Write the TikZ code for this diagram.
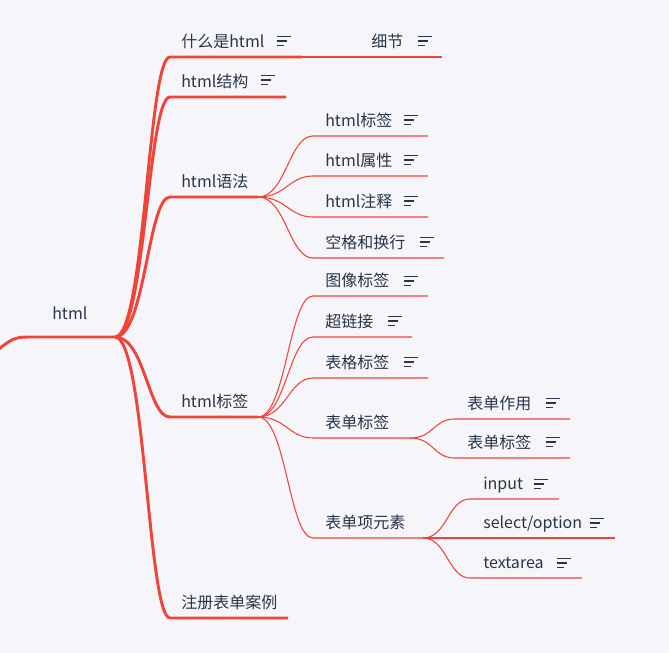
\documentclass[tikz,border=0pt]{standalone}
\usepackage{fontspec}
\setmainfont{Noto Sans CJK SC}
\usepackage{xcolor}
\definecolor{paper}{RGB}{246,246,250}
\definecolor{branch}{RGB}{240,68,56}
\definecolor{ink}{RGB}{40,52,72}
\tikzset{
  topic/.style={anchor=base west, inner sep=0pt, text=ink, font=\fontsize{12}{14}\selectfont},
  mainline/.style={branch, line width=2.2pt},
  subline/.style={branch, line width=0.8pt},
  noteline/.style={ink, line width=1.1pt},
}
% note icon: three lines, x and y of the middle line
\newcommand{\noteicon}[2]{\draw[noteline] (#1,#2-4.5) -- +(14,0) (#1,#2) -- +(10,0) (#1,#2+4.5) -- +(7,0);}

\begin{document}
\begin{tikzpicture}[x=0.75pt,y=-0.75pt]
\fill[paper] (0,0) rectangle (669,653);
\useasboundingbox (0,0) rectangle (669,653);

% root
\node[topic] (root) at (52,319) {html};
\coordinate (edge) at (-1,349);
\coordinate (rootL) at (28,337);
\coordinate (hub) at (115,337);
\draw[mainline] (edge) .. controls +(12,-10) and +(-12,0) .. (rootL) -- (hub);

% level 1
\node[topic] (what) at (181,47) {什么是html};
\coordinate (whatA) at (170,57); \coordinate (whatB) at (302,57);
\draw[mainline] (hub) .. controls +(30,0) and +(-22,0) .. (whatA) -- (whatB);
\noteicon{277}{41}

\node[topic] (struct) at (181,87) {html结构};
\coordinate (structA) at (170,97); \coordinate (structB) at (286,97);
\draw[mainline] (hub) .. controls +(30,0) and +(-22,0) .. (structA) -- (structB);
\noteicon{261}{80}

\node[topic] (syntax) at (181,187) {html语法};
\coordinate (syntaxA) at (170,197); \coordinate (syntaxB) at (258,197);
\draw[mainline] (hub) .. controls +(30,0) and +(-22,0) .. (syntaxA) -- (syntaxB);

\node[topic] (tags) at (181,407) {html标签};
\coordinate (tagsA) at (170,417); \coordinate (tagsB) at (258,417);
\draw[mainline] (hub) .. controls +(30,0) and +(-22,0) .. (tagsA) -- (tagsB);

\node[topic] (demo) at (181,608) {注册表单案例};
\coordinate (demoA) at (170,618); \coordinate (demoB) at (288,618);
\draw[mainline] (hub) .. controls +(30,0) and +(-22,0) .. (demoA) -- (demoB);

% level 2 under 什么是html
\node[topic] (detail) at (371,47) {细节};
\coordinate (detailB) at (442,57);
\draw[subline] (whatB) -- (detailB);
\noteicon{418}{41}

% level 2 under html语法
\node[topic] (s1) at (325,126) {html标签};
\coordinate (s1A) at (313,136); \coordinate (s1B) at (428,136);
\draw[subline] (syntaxB) .. controls +(28,0) and +(-24,0) .. (s1A) -- (s1B);
\noteicon{404}{120}

\node[topic] (s2) at (325,166) {html属性};
\coordinate (s2A) at (313,176); \coordinate (s2B) at (428,176);
\draw[subline] (syntaxB) .. controls +(28,0) and +(-24,0) .. (s2A) -- (s2B);
\noteicon{404}{160}

\node[topic] (s3) at (325,207) {html注释};
\coordinate (s3A) at (313,217); \coordinate (s3B) at (428,217);
\draw[subline] (syntaxB) .. controls +(28,0) and +(-24,0) .. (s3A) -- (s3B);
\noteicon{404}{201}

\node[topic] (s4) at (325,248) {空格和换行};
\coordinate (s4A) at (313,258); \coordinate (s4B) at (444,258);
\draw[subline] (syntaxB) .. controls +(28,0) and +(-24,0) .. (s4A) -- (s4B);
\noteicon{420}{242}

% level 2 under html标签
\node[topic] (t1) at (325,286) {图像标签};
\coordinate (t1A) at (313,296); \coordinate (t1B) at (428,296);
\draw[subline] (tagsB) .. controls +(28,0) and +(-24,0) .. (t1A) -- (t1B);
\noteicon{404}{281}

\node[topic] (t2) at (325,327) {超链接};
\coordinate (t2A) at (313,337); \coordinate (t2B) at (412,337);
\draw[subline] (tagsB) .. controls +(28,0) and +(-24,0) .. (t2A) -- (t2B);
\noteicon{388}{321}

\node[topic] (t3) at (325,368) {表格标签};
\coordinate (t3A) at (313,378); \coordinate (t3B) at (428,378);
\draw[subline] (tagsB) .. controls +(28,0) and +(-24,0) .. (t3A) -- (t3B);
\noteicon{404}{362}

\node[topic] (form) at (325,428) {表单标签};
\coordinate (formA) at (313,438); \coordinate (formB) at (410,438);
\draw[subline] (tagsB) .. controls +(28,0) and +(-24,0) .. (formA) -- (formB);

\node[topic] (item) at (325,528) {表单项元素};
\coordinate (itemA) at (313,538); \coordinate (itemB) at (423,538);
\draw[subline] (tagsB) .. controls +(28,0) and +(-24,0) .. (itemA) -- (itemB);

% level 3 under 表单标签
\node[topic] (f1) at (467,409) {表单作用};
\coordinate (f1A) at (455,419); \coordinate (f1B) at (570,419);
\draw[subline] (formB) .. controls +(24,0) and +(-22,0) .. (f1A) -- (f1B);
\noteicon{546}{403}

\node[topic] (f2) at (467,448) {表单标签};
\coordinate (f2A) at (455,458); \coordinate (f2B) at (570,458);
\draw[subline] (formB) .. controls +(24,0) and +(-22,0) .. (f2A) -- (f2B);
\noteicon{546}{442}

% level 3 under 表单项元素
\node[topic] (i1) at (483,489) {input};
\coordinate (i1A) at (470,499); \coordinate (i1B) at (559,499);
\draw[subline] (itemB) .. controls +(24,0) and +(-22,0) .. (i1A) -- (i1B);
\noteicon{534}{484}

\node[topic] (i2) at (483,528) {select/option};
\coordinate (i2B) at (615,538);
\draw[subline] (itemB) -- (i2B);
\noteicon{590}{523}

\node[topic] (i3) at (483,568) {textarea};
\coordinate (i3A) at (470,578); \coordinate (i3B) at (582,578);
\draw[subline] (itemB) .. controls +(24,0) and +(-22,0) .. (i3A) -- (i3B);
\noteicon{557}{563}
\end{tikzpicture}
\end{document}
